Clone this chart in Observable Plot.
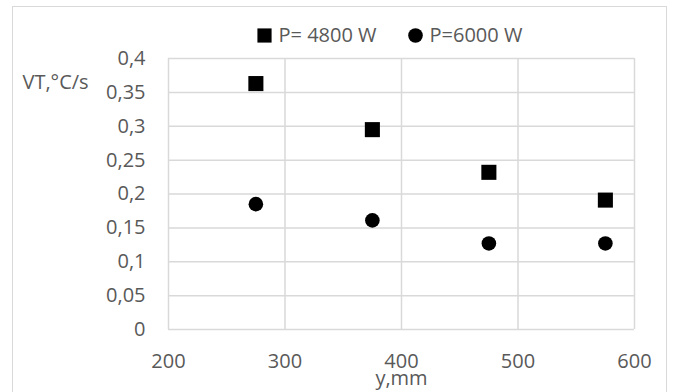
<!DOCTYPE html>
<html>
<head>
<meta charset="utf-8">
<script src="https://cdn.jsdelivr.net/npm/d3@7"></script>
<script src="https://cdn.jsdelivr.net/npm/@observablehq/plot@0.6"></script>
<style>
  html, body { margin: 0; padding: 0; background: #fff; }
  #wrap { position: relative; width: 673px; height: 392px; overflow: hidden; }
  #border { position: absolute; left: 12px; top: 6px; width: 655px; height: 420px; border: 1.5px solid #d9d9d9; box-sizing: border-box; pointer-events: none; }
</style>
</head>
<body>
<div id="wrap"><div id="border"></div></div>
<script>
const xValues = [275, 375, 475, 575];
const p4800 = [0.363, 0.295, 0.232, 0.191];
const p6000 = [0.185, 0.161, 0.127, 0.127];
const seriesNames = ["P= 4800 W", "P=6000 W"];
const xTicks = [200, 300, 400, 500, 600];
const yTicks = [0, 0.05, 0.1, 0.15, 0.2, 0.25, 0.3, 0.35, 0.4];
const xTitle = "y,mm";
const yTitle = "VT,°C/s";

const data = [
  ...xValues.map((x, i) => ({x, y: p4800[i], s: seriesNames[0]})),
  ...xValues.map((x, i) => ({x, y: p6000[i], s: seriesNames[1]}))
];

const font = "Open Sans";
const txt = "#595959";

const chart = Plot.plot({
  width: 673,
  height: 392,
  marginLeft: 168,
  marginRight: 39,
  marginTop: 58,
  marginBottom: 63,
  style: {fontFamily: font, fontSize: "20px", color: txt, background: "transparent", overflow: "visible"},
  x: {domain: [200, 600]},
  y: {domain: [0, 0.4]},
  marks: [
    Plot.gridX(xTicks, {stroke: "#d9d9d9", strokeOpacity: 1, strokeWidth: 1.5}),
    Plot.gridY(yTicks, {stroke: "#d9d9d9", strokeOpacity: 1, strokeWidth: 1.5}),
    Plot.axisX({ticks: xTicks, tickSize: 0, tickPadding: 24, label: null, fontSize: 20, fill: txt}),
    Plot.axisY({ticks: yTicks, tickSize: 0, tickPadding: 23, label: null, fontSize: 20, fill: txt,
      tickFormat: d => String(d).replace(".", ",")}),
    Plot.dot(data.filter(d => d.s === seriesNames[0]), {x: "x", y: "y", symbol: "square", r: 8.5, fill: "black"}),
    Plot.dot(data.filter(d => d.s === seriesNames[1]), {x: "x", y: "y", symbol: "circle", r: 7.3, fill: "black"}),
    // axis titles
    Plot.text([yTitle], {frameAnchor: "top-left", text: d => d, textAnchor: "start", lineAnchor: "middle", dx: -146, dy: 24, fontSize: 20, fill: txt}),
    Plot.text([xTitle], {frameAnchor: "bottom", text: d => d, lineAnchor: "middle", dy: 49, fontSize: 20, fill: txt}),
    // legend
    Plot.dot([seriesNames[0]], {frameAnchor: "top-left", symbol: "square", r: 8, fill: "black", dx: 96, dy: -23}),
    Plot.text([seriesNames[0]], {frameAnchor: "top-left", text: d => d, textAnchor: "start", lineAnchor: "middle", dx: 110, dy: -23, fontSize: 20, fill: txt}),
    Plot.dot([seriesNames[1]], {frameAnchor: "top-left", symbol: "circle", r: 7.3, fill: "black", dx: 247, dy: -23}),
    Plot.text([seriesNames[1]], {frameAnchor: "top-left", text: d => d, textAnchor: "start", lineAnchor: "middle", dx: 261, dy: -23, fontSize: 20, fill: txt})
  ]
});
chart.style.position = "absolute";
chart.style.left = "0";
chart.style.top = "0";
document.getElementById("wrap").appendChild(chart);
</script>
</body>
</html>
